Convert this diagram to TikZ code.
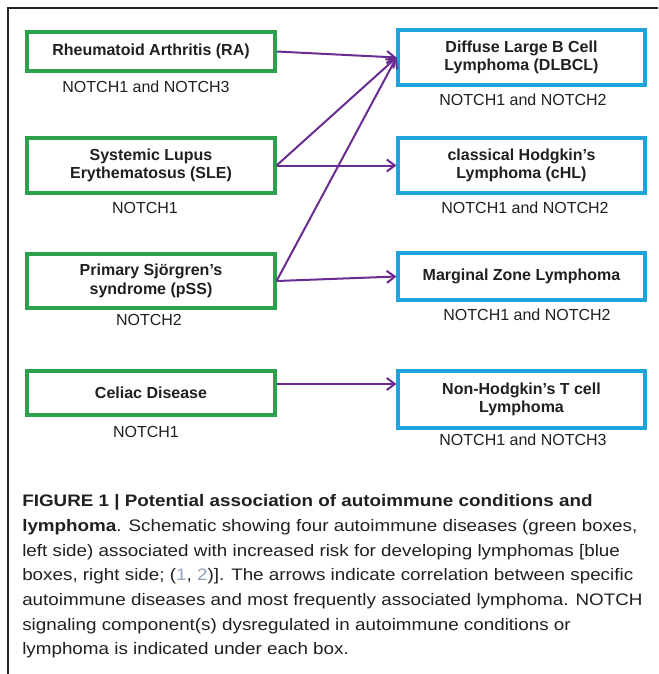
\documentclass[tikz,border=0pt]{standalone}
\usepackage{fontspec}
\setmainfont{Liberation Sans}
\newfontfamily\capfont[FakeStretch=1.13]{Liberation Sans}
\usetikzlibrary{arrows.meta}
\definecolor{gbox}{HTML}{2BA14B}
\definecolor{bbox}{HTML}{1FA3DA}
\definecolor{arr}{HTML}{6A2C91}
\definecolor{cite}{HTML}{8FA3BC}
\definecolor{txt}{HTML}{231F20}
\tikzset{
  greenbox/.style={draw=gbox, line width=2.3pt, fill=white, minimum width=248*0.75pt, inner sep=0pt, align=center, font=\fontsize{12}{14}\selectfont\bfseries, text=txt},
  bluebox/.style={draw=bbox, line width=2.3pt, fill=white, minimum width=247*0.75pt, inner sep=0pt, align=center, font=\fontsize{12}{14}\selectfont\bfseries, text=txt},
  notch/.style={font=\fontsize{12}{14}\selectfont, text=txt, inner sep=0pt},
  link/.style={draw=arr, line width=1.5pt, -{Straight Barb[length=6pt,width=9pt,line width=1.5pt]}},
}
\begin{document}
\begin{tikzpicture}[x=0.75pt,y=-0.75pt]
\useasboundingbox (0,0) rectangle (658,674);
\fill[white] (0,0) rectangle (658,674);
\draw[line width=0.8pt, black!85] (8,674) -- (8,8) -- (658,8);
% left boxes
\node[greenbox, minimum height=39*0.75pt] (ra) at (151,51.5) {Rheumatoid Arthritis (RA)};
\node[greenbox, minimum height=55*0.75pt] (sle) at (151,165.5) {Systemic Lupus\\Erythematosus (SLE)};
\node[greenbox, minimum height=54*0.75pt] (pss) at (151,281) {Primary Sjörgren’s\\syndrome (pSS)};
\node[greenbox, minimum height=44*0.75pt] (cd) at (151,393) {Celiac Disease};
% right boxes
\node[bluebox, minimum height=55*0.75pt] (dl) at (521.5,57.5) {Diffuse Large B Cell\\Lymphoma (DLBCL)};
\node[bluebox, minimum height=55*0.75pt] (chl) at (521.5,165.5) {classical Hodgkin’s\\Lymphoma (cHL)};
\node[bluebox, minimum height=47*0.75pt] (mzl) at (521.5,276.5) {Marginal Zone Lymphoma};
\node[bluebox, minimum height=57*0.75pt] (nht) at (521.5,399.5) {Non-Hodgkin’s T cell\\Lymphoma};
% labels
\node[notch] (lra) at (146,87) {NOTCH1 and NOTCH3};
\node[notch] (lsle) at (145,208) {NOTCH1};
\node[notch] (lpss) at (149,320) {NOTCH2};
\node[notch] (lcd) at (146,432) {NOTCH1};
\node[notch] (ldl) at (523,100) {NOTCH1 and NOTCH2};
\node[notch] (lchl) at (525,208) {NOTCH1 and NOTCH2};
\node[notch] (lmzl) at (527,315) {NOTCH1 and NOTCH2};
\node[notch] (lnht) at (523,440) {NOTCH1 and NOTCH3};
% arrows
\draw[link] (ra.east) -- (dl.west);
\draw[link] (sle.east) -- (dl.west);
\draw[link] (pss.east) -- (dl.west);
\draw[link] (sle.east) -- (chl.west);
\draw[link] (pss.east) -- (mzl.west);
\draw[link] (cd.east |- 0,384) -- (nht.west |- 0,384);
% caption
\node[anchor=north west, inner sep=0pt, align=left, text=txt,
      font=\capfont\fontsize{12.5}{18.5}\selectfont] (cap) at (22,494.5)
{\textbf{FIGURE 1 | Potential association of autoimmune conditions and}\\
\textbf{lymphoma}. Schematic showing four autoimmune diseases (green boxes,\\
left side) associated with increased risk for developing lymphomas [blue\\
boxes, right side; ({\color{cite}1}, {\color{cite}2})]. The arrows indicate correlation between specific\\
autoimmune diseases and most frequently associated lymphoma. NOTCH\\
signaling component(s) dysregulated in autoimmune conditions or\\
lymphoma is indicated under each box.};
\end{tikzpicture}
\end{document}
